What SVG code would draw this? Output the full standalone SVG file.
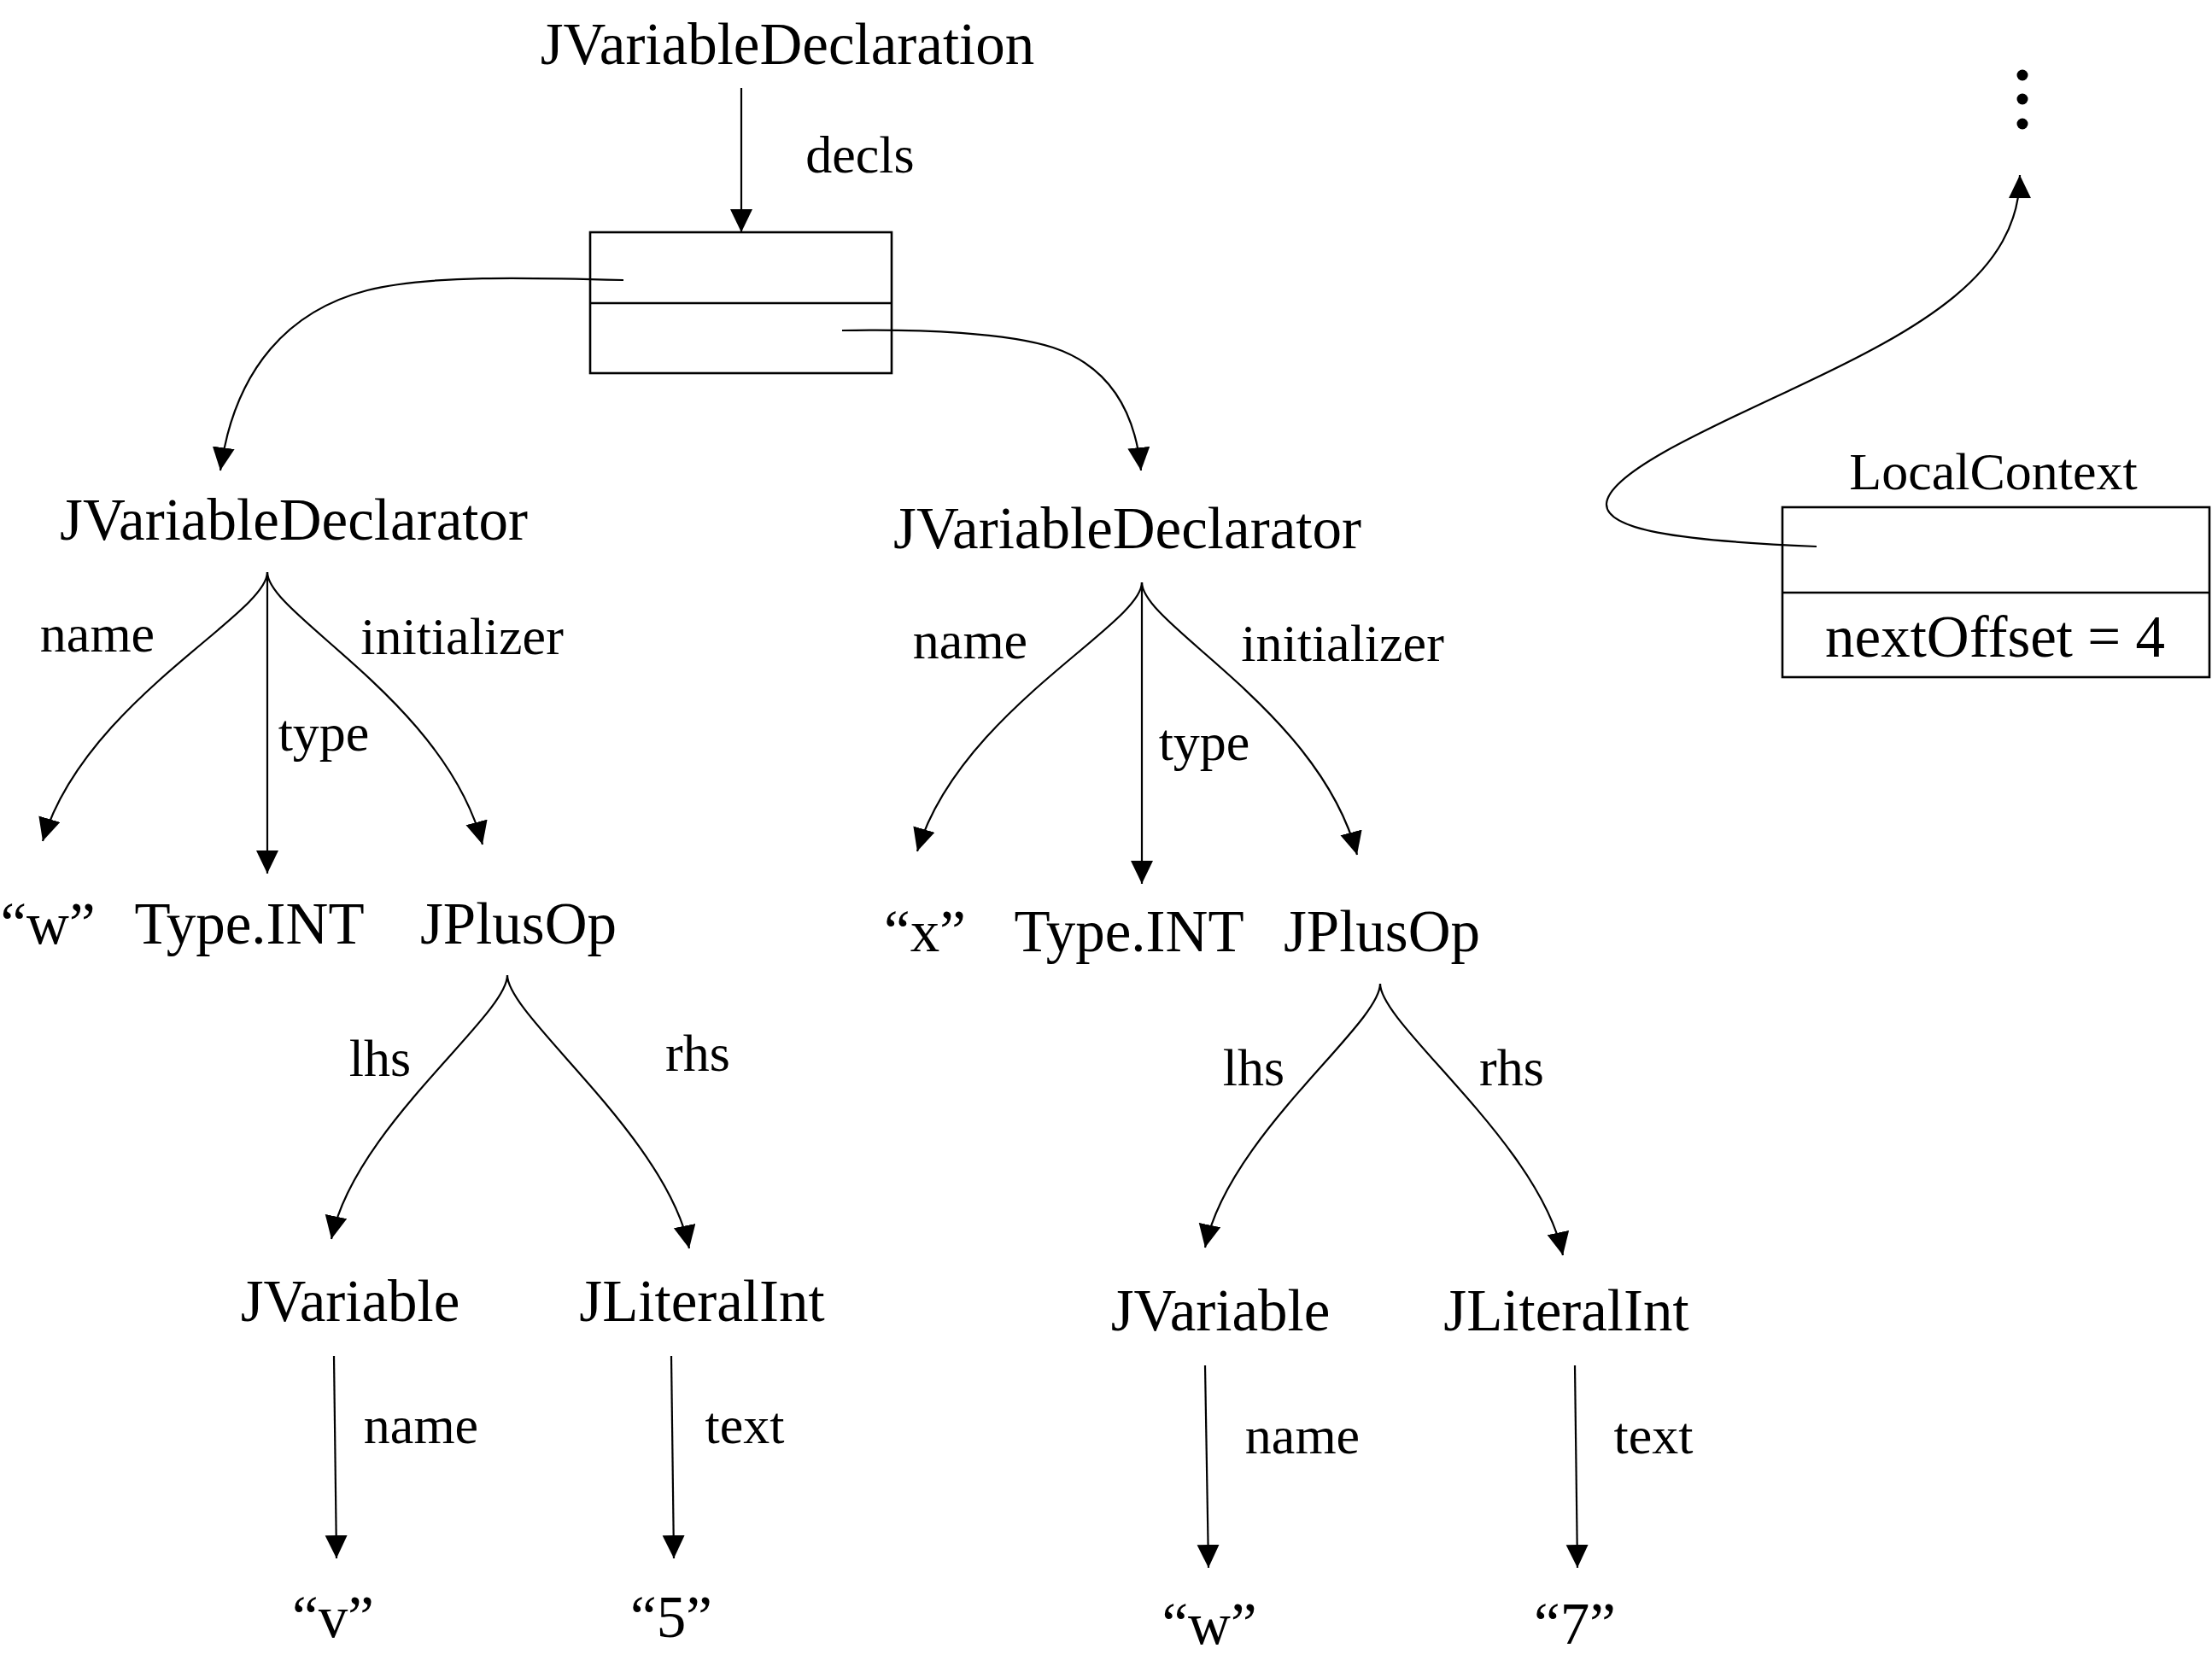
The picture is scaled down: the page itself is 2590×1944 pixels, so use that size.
<svg xmlns="http://www.w3.org/2000/svg" width="2590" height="1944" viewBox="0 0 2590 1944">
<style>
text{font-family:"Liberation Serif","Times New Roman",serif;fill:#000;text-anchor:middle}
.n{font-size:69px}
.l{font-size:62px}
.c{fill:none;stroke:#000;stroke-width:2.2}
.b{fill:#fff;stroke:#000;stroke-width:2.6}
</style>
<defs>
<marker id="ah" markerUnits="userSpaceOnUse" markerWidth="28" markerHeight="28" refX="27" refY="13" orient="auto">
<path d="M0,0 L27,13 L0,26 z" fill="#000"/>
</marker>
</defs>
<rect width="2590" height="1944" fill="#fff"/>

<g id="n-decl"><text class="n" x="922" y="75">JVariableDeclaration</text></g>
<g id="n-declsbox">
<rect class="b" x="691" y="272" width="353" height="165"/>
<line class="b" x1="691" y1="355" x2="1044" y2="355"/>
</g>
<g id="n-dtor1"><text class="n" x="344" y="632">JVariableDeclarator</text></g>
<g id="n-dtor2"><text class="n" x="1320" y="642">JVariableDeclarator</text></g>
<g id="n-w1"><text class="n" x="56" y="1105">“w”</text></g>
<g id="n-type1"><text class="n" x="292" y="1105">Type.INT</text></g>
<g id="n-plus1"><text class="n" x="607" y="1105">JPlusOp</text></g>
<g id="n-x"><text class="n" x="1083" y="1114">“x”</text></g>
<g id="n-type2"><text class="n" x="1322" y="1114">Type.INT</text></g>
<g id="n-plus2"><text class="n" x="1618" y="1114">JPlusOp</text></g>
<g id="n-var1"><text class="n" x="410" y="1547">JVariable</text></g>
<g id="n-lit1"><text class="n" x="822" y="1547">JLiteralInt</text></g>
<g id="n-v"><text class="n" x="390" y="1917">“v”</text></g>
<g id="n-5"><text class="n" x="786" y="1917">“5”</text></g>
<g id="n-var2"><text class="n" x="1429" y="1558">JVariable</text></g>
<g id="n-lit2"><text class="n" x="1834" y="1558">JLiteralInt</text></g>
<g id="n-w2"><text class="n" x="1416" y="1925">“w”</text></g>
<g id="n-7"><text class="n" x="1844" y="1925">“7”</text></g>
<g id="n-ctx">
<text class="l" x="2334" y="573">LocalContext</text>
<rect class="b" x="2087" y="594" width="500" height="199"/>
<line class="b" x1="2087" y1="694" x2="2587" y2="694"/>
<text class="n" x="2336" y="769">nextOffset = 4</text>
</g>
<g id="n-dots">
<circle cx="2368" cy="88" r="6.5"/>
<circle cx="2368" cy="116" r="6.5"/>
<circle cx="2368" cy="145" r="6.5"/>
</g>

<g id="connectors">
<line class="c" x1="868" y1="103" x2="868" y2="272" marker-end="url(#ah)"/>
<path class="c" d="M730,328 C620,325 500,322 430,340 C340,363 275,430 258,551" marker-end="url(#ah)"/>
<path class="c" d="M986,387 C1080,385 1180,390 1233,407 C1290,426 1328,470 1336,551" marker-end="url(#ah)"/>
<path class="c" d="M2127,640 C1960,633 1880,620 1881,590 C1883,555 1990,506 2100,455 C2250,385 2365,320 2365,205" marker-end="url(#ah)"/>

<path class="c" d="M313,670 C313,720 100,820 50,985" marker-end="url(#ah)"/>
<line class="c" x1="313" y1="670" x2="313" y2="1023" marker-end="url(#ah)"/>
<path class="c" d="M313,670 C313,720 520,820 565,989" marker-end="url(#ah)"/>

<path class="c" d="M1337,682 C1337,732 1124,832 1074,997" marker-end="url(#ah)"/>
<line class="c" x1="1337" y1="682" x2="1337" y2="1035" marker-end="url(#ah)"/>
<path class="c" d="M1337,682 C1337,732 1544,832 1589,1001" marker-end="url(#ah)"/>

<path class="c" d="M594,1142 C594,1190 415,1320 388,1451" marker-end="url(#ah)"/>
<path class="c" d="M594,1142 C594,1190 780,1330 807,1462" marker-end="url(#ah)"/>
<path class="c" d="M1616,1152 C1616,1200 1438,1330 1411,1461" marker-end="url(#ah)"/>
<path class="c" d="M1616,1152 C1616,1200 1802,1338 1830,1470" marker-end="url(#ah)"/>

<line class="c" x1="391" y1="1588" x2="394" y2="1825" marker-end="url(#ah)"/>
<line class="c" x1="786" y1="1588" x2="789" y2="1825" marker-end="url(#ah)"/>
<line class="c" x1="1411" y1="1599" x2="1415" y2="1836" marker-end="url(#ah)"/>
<line class="c" x1="1844" y1="1599" x2="1847" y2="1836" marker-end="url(#ah)"/>

<text class="l" x="1007" y="202">decls</text>
<text class="l" x="114" y="763">name</text>
<text class="l" x="379" y="879">type</text>
<text class="l" x="541" y="766">initializer</text>
<text class="l" x="1136" y="771">name</text>
<text class="l" x="1410" y="890">type</text>
<text class="l" x="1572" y="774">initializer</text>
<text class="l" x="445" y="1260">lhs</text>
<text class="l" x="817" y="1254">rhs</text>
<text class="l" x="1468" y="1271">lhs</text>
<text class="l" x="1770" y="1271">rhs</text>
<text class="l" x="493" y="1690">name</text>
<text class="l" x="872" y="1690">text</text>
<text class="l" x="1525" y="1702">name</text>
<text class="l" x="1936" y="1702">text</text>
</g>
</svg>
